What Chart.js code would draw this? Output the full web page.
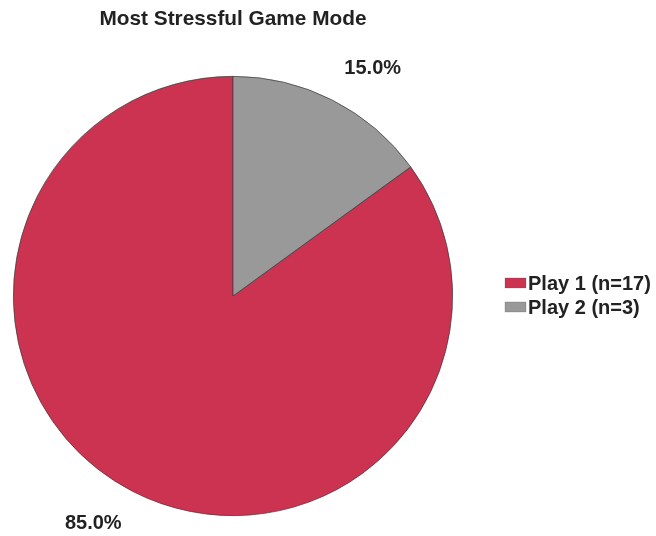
<!DOCTYPE html>
<html>
<head>
<meta charset="utf-8">
<style>
  html, body { margin: 0; padding: 0; background: #ffffff; }
  #wrap { width: 656px; height: 536px; }
</style>
<script src="https://cdn.jsdelivr.net/npm/chart.js@4/dist/chart.umd.min.js"></script>
</head>
<body>
<div id="wrap"><canvas id="pie" width="656" height="536"></canvas></div>
<script>
// Survey responses: which game mode was most stressful
const categories = ['Play 1 (n=17)', 'Play 2 (n=3)'];
const counts = [17, 3];
const sliceColors = ['#CC3350', '#999999'];

const FONT = "'Liberation Sans', Arial, Helvetica, sans-serif";
const TEXT = '#222222';

// Percentage labels placed just outside each slice
const outsideLabels = {
  id: 'outsideLabels',
  afterDatasetsDraw(chart) {
    const ctx = chart.ctx;
    const meta = chart.getDatasetMeta(0);
    const total = counts.reduce((a, b) => a + b, 0);
    ctx.save();
    ctx.font = 'bold 20px ' + FONT;
    ctx.fillStyle = TEXT;
    ctx.textAlign = 'center';
    ctx.textBaseline = 'middle';
    meta.data.forEach((arc, i) => {
      const p = arc.getProps(['x', 'y', 'startAngle', 'endAngle', 'outerRadius'], true);
      const mid = (p.startAngle + p.endAngle) / 2 + 4.6 * Math.PI / 180;
      const r = p.outerRadius + 47;
      const pct = (counts[i] / total * 100).toFixed(1) + '%';
      ctx.fillText(pct, p.x + Math.cos(mid) * r, p.y + Math.sin(mid) * r);
    });
    ctx.restore();
  }
};

// Legend to the right of the pie, vertically centred on it
const sideLegend = {
  id: 'sideLegend',
  afterDraw(chart) {
    const ctx = chart.ctx;
    const meta = chart.getDatasetMeta(0);
    const cy = meta.data[0].y;
    const left = chart.chartArea.right + 52;
    const step = 24;
    const n = categories.length;
    ctx.save();
    ctx.font = 'bold 20px ' + FONT;
    ctx.textAlign = 'left';
    ctx.textBaseline = 'middle';
    categories.forEach((label, i) => {
      const y = cy + (i - (n - 1) / 2) * step - 1;
      ctx.fillStyle = sliceColors[i];
      ctx.fillRect(left, y - 5, 21, 10);
      ctx.strokeStyle = 'rgba(60,60,60,0.35)';
      ctx.lineWidth = 0.6;
      ctx.strokeRect(left, y - 5, 21, 10);
      ctx.fillStyle = TEXT;
      ctx.fillText(label, left + 23, y + 2);
    });
    ctx.restore();
  }
};

new Chart(document.getElementById('pie'), {
  type: 'pie',
  data: {
    labels: categories,
    datasets: [{
      data: counts,
      backgroundColor: sliceColors,
      borderColor: '#3a3a3a',
      borderWidth: 0.7,
      hoverOffset: 0
    }]
  },
  options: {
    responsive: false,
    animation: false,
    rotation: 54,
    layout: { padding: { left: 13, right: 203, top: 0, bottom: 20 } },
    plugins: {
      legend: { display: false },
      tooltip: { enabled: false },
      title: {
        display: true,
        text: 'Most Stressful Game Mode',
        color: TEXT,
        font: { family: FONT, size: 20.8, weight: 'bold' },
        padding: { top: 7, bottom: 44 }
      }
    }
  },
  plugins: [outsideLabels, sideLegend]
});
</script>
</body>
</html>
